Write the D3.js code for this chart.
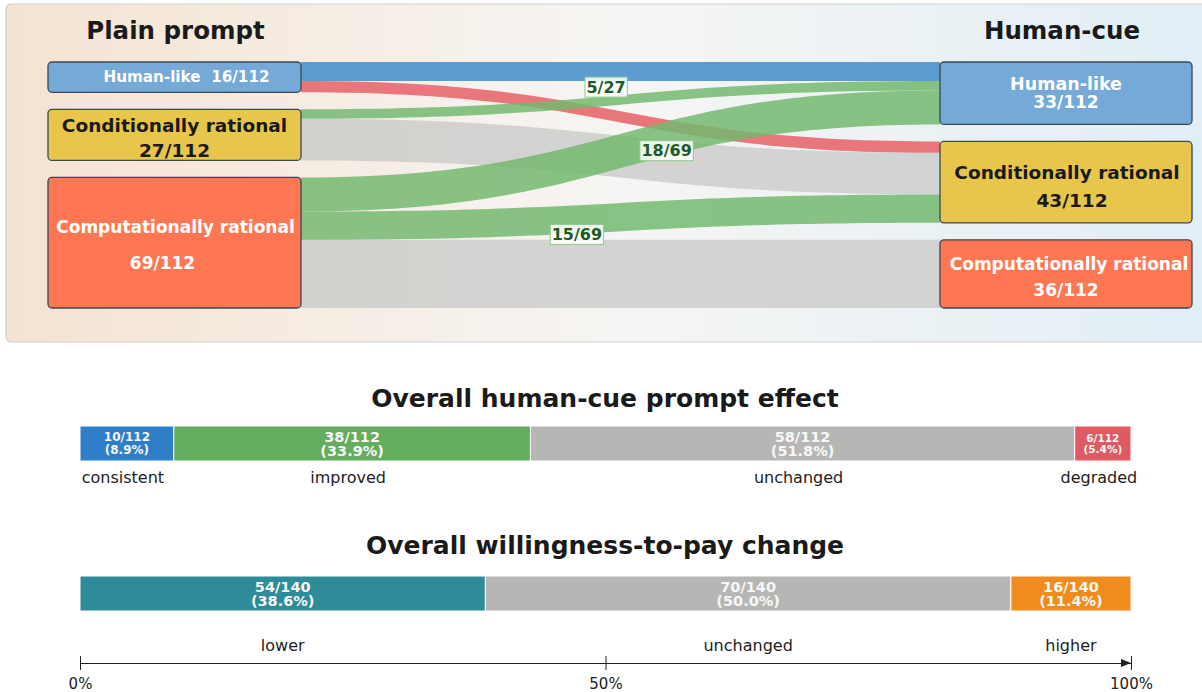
<!DOCTYPE html>
<html>
<head>
<meta charset="utf-8">
<script src="https://cdn.jsdelivr.net/npm/d3@7"></script>
<style>
  body { margin: 0; background: #fff; }
  svg text { font-family: "DejaVu Sans", sans-serif; }
</style>
</head>
<body>
<div class="chart"></div>
<script>
// sankey data: plain prompt -> human-cue
var nodeNames = ["Human-like", "Conditionally rational", "Computationally rational"];
var leftCounts = [16, 27, 69];
var rightCounts = [33, 43, 36];
var flowSource = [0, 0, 1, 1, 2, 2, 2];
var flowTarget = [0, 1, 0, 1, 0, 1, 2];
var flowValue = [10, 6, 5, 22, 18, 15, 36];
var flowKind = ["consistent", "degraded", "improved", "unchanged", "improved", "improved", "unchanged"];
var totalModels = 112;

// summary bars
var effectLabels = ["consistent", "improved", "unchanged", "degraded"];
var effectCounts = [10, 38, 58, 6];
var wtpLabels = ["lower", "unchanged", "higher"];
var wtpCounts = [54, 70, 16];
var axisTicks = [0, 0.5, 1];

var svgWidth = 1202, svgHeight = 692;

var svg = d3.select(".chart").append("svg")
    .attr("width", svgWidth).attr("height", svgHeight);

var defs = svg.append("defs");
var grad = defs.append("linearGradient").attr("id", "panelBg")
    .attr("x1", "0").attr("x2", "1").attr("y1", "0").attr("y2", "0");
grad.append("stop").attr("offset", "0%").attr("stop-color", "#f5e3d2");
grad.append("stop").attr("offset", "50%").attr("stop-color", "#f6f5f3");
grad.append("stop").attr("offset", "100%").attr("stop-color", "#e0eef6");

svg.append("rect")
    .attr("x", 6).attr("y", 4).attr("width", 1220).attr("height", 338)
    .attr("rx", 5)
    .attr("fill", "url(#panelBg)")
    .attr("stroke", "#cfcfcf").attr("stroke-width", 1.2);

// ---------- sankey ----------
var leftX0 = 48, leftX1 = 301, rightX0 = 940, rightX1 = 1192;
var topY = 62, nodeGap = 17;
var yUnit = d3.scaleLinear().domain([0, totalModels]).range([0, 212]);

function stackNodes(counts) {
    var y = topY;
    return counts.map(function(c) {
        var n = {y0: y, y1: y + yUnit(c)};
        y = n.y1 + nodeGap;
        return n;
    });
}
var leftNodes = stackNodes(leftCounts);
var rightNodes = stackNodes(rightCounts);

var nodeFill = ["#75a9d7", "#e8c64b", "#ff7752"];
var nodeText = ["#ffffff", "#1a1a1a", "#ffffff"];
var kindColor = {consistent: "#5b9bd0", degraded: "#e8767b", improved: "#74b870", unchanged: "#c9c9c8"};
var kindOpacity = {consistent: 1, degraded: 1, improved: 0.85, unchanged: 0.78};

// links: ordered by target at source side, by source at target side
var links = flowValue.map(function(v, i) {
    return {s: flowSource[i], t: flowTarget[i], v: v, kind: flowKind[i], i: i};
});
var srcOff = leftNodes.map(function(n) { return n.y0; });
links.slice().sort(function(a, b) { return a.s - b.s || a.t - b.t; }).forEach(function(l) {
    l.ys = srcOff[l.s]; srcOff[l.s] += yUnit(l.v);
});
var tgtOff = rightNodes.map(function(n) { return n.y0; });
links.slice().sort(function(a, b) { return a.t - b.t || a.s - b.s; }).forEach(function(l) {
    l.yt = tgtOff[l.t]; tgtOff[l.t] += yUnit(l.v);
});

var xm = (leftX1 + rightX0) / 2;
function band(l) {
    var h = yUnit(l.v);
    return "M" + leftX1 + "," + l.ys +
        "C" + xm + "," + l.ys + " " + xm + "," + l.yt + " " + rightX0 + "," + l.yt +
        "L" + rightX0 + "," + (l.yt + h) +
        "C" + xm + "," + (l.yt + h) + " " + xm + "," + (l.ys + h) + " " + leftX1 + "," + (l.ys + h) + "Z";
}
function pointAt(l, t) {
    var h = yUnit(l.v) / 2, a = l.ys + h, b = l.yt + h;
    var u = 1 - t;
    return {
        x: u*u*u*leftX1 + 3*u*u*t*xm + 3*u*t*t*xm + t*t*t*rightX0,
        y: u*u*u*a + 3*u*u*t*a + 3*u*t*t*b + t*t*t*b
    };
}

var drawOrder = ["unchanged", "consistent", "degraded", "improved"];
var linkG = svg.append("g");
drawOrder.forEach(function(k) {
    linkG.selectAll(null)
        .data(links.filter(function(l) { return l.kind === k; }))
        .enter().append("path")
        .attr("d", band)
        .attr("fill", kindColor[k])
        .attr("fill-opacity", kindOpacity[k]);
});

// nodes
function drawNodes(nodes, x0, x1) {
    svg.append("g").selectAll("rect").data(nodes).enter().append("rect")
        .attr("x", x0).attr("y", function(d) { return d.y0; })
        .attr("width", x1 - x0).attr("height", function(d) { return d.y1 - d.y0; })
        .attr("rx", 4)
        .attr("fill", function(d, i) { return nodeFill[i]; })
        .attr("stroke", "#3b4856").attr("stroke-width", 1.3);
}
drawNodes(leftNodes, leftX0, leftX1);
drawNodes(rightNodes, rightX0, rightX1);

function label(x, y, txt, size, color) {
    svg.append("text")
        .attr("x", x).attr("y", y)
        .attr("text-anchor", "middle").attr("dominant-baseline", "central")
        .attr("font-size", size).attr("font-weight", "bold")
        .attr("fill", color)
        .style("white-space", "pre")
        .text(txt);
}
var lc = (leftX0 + leftX1) / 2, rc = (rightX0 + rightX1) / 2;
function mid(n) { return (n.y0 + n.y1) / 2; }

// left node labels
label(lc + 12, mid(leftNodes[0]), nodeNames[0] + "  " + leftCounts[0] + "/" + totalModels, 15.2, nodeText[0]);
label(lc, mid(leftNodes[1]) - 9, nodeNames[1], 18.5, nodeText[1]);
label(lc, mid(leftNodes[1]) + 16, leftCounts[1] + "/" + totalModels, 18.5, nodeText[1]);
label(lc + 1, mid(leftNodes[2]) - 16, nodeNames[2], 17, nodeText[2]);
label(lc - 12, mid(leftNodes[2]) + 20, leftCounts[2] + "/" + totalModels, 17, nodeText[2]);
// right node labels
label(rc, mid(rightNodes[0]) - 9.5, nodeNames[0], 17.5, nodeText[0]);
label(rc, mid(rightNodes[0]) + 9, rightCounts[0] + "/" + totalModels, 17, nodeText[0]);
label(rc + 1, mid(rightNodes[1]) - 10, nodeNames[1], 18.5, nodeText[1]);
label(rc + 6, mid(rightNodes[1]) + 18, rightCounts[1] + "/" + totalModels, 18.5, nodeText[1]);
label(rc + 3, mid(rightNodes[2]) - 10, nodeNames[2], 17, nodeText[2]);
label(rc, mid(rightNodes[2]) + 16, rightCounts[2] + "/" + totalModels, 17, nodeText[2]);

// column titles
label(lc + 1, 30, "Plain prompt", 24.5, "#1a1a1a");
label(1062, 30, "Human-cue", 24.5, "#1a1a1a");

// flow labels on improved links
var flowLabelPos = {2: {t: 0.47, dy: -14}, 4: {t: 0.595, dy: 12}, 5: {t: 0.41, dy: 15}};
links.filter(function(l) { return l.kind === "improved"; }).forEach(function(l) {
    var p = flowLabelPos[l.i], pt = pointAt(l, p.t);
    var g = svg.append("g").attr("transform", "translate(" + pt.x + "," + (pt.y + p.dy) + ")");
    var txt = g.append("text")
        .attr("text-anchor", "middle").attr("dominant-baseline", "central")
        .attr("font-size", 16).attr("font-weight", "bold").attr("fill", "#1f5a27")
        .text(l.v + "/" + leftCounts[l.s]);
    var bb = txt.node().getBBox();
    g.insert("rect", "text")
        .attr("x", bb.x - 1.5).attr("y", -10).attr("width", bb.width + 3).attr("height", 20)
        .attr("fill", "#ffffff").attr("fill-opacity", 0.85)
        .attr("stroke", "#8fc88b").attr("stroke-width", 1);
});

// ---------- summary bars ----------
var x = d3.scaleLinear().domain([0, 1]).range([80, 1131]);

function stackedBar(title, titleY, barY, labels, counts, colors, captionY, captionDx) {
    var total = d3.sum(counts);
    var acc = 0;
    var segs = counts.map(function(c, i) {
        var s = {x0: acc / total, x1: (acc + c) / total, c: c, label: labels[i], color: colors[i], total: total};
        acc += c;
        return s;
    });
    svg.append("text")
        .attr("x", 605).attr("y", titleY)
        .attr("text-anchor", "middle").attr("dominant-baseline", "central")
        .attr("font-size", 25).attr("font-weight", "bold").attr("fill", "#1a1a1a")
        .text(title);
    var g = svg.append("g");
    g.selectAll("rect").data(segs).enter().append("rect")
        .attr("x", function(d) { return x(d.x0); })
        .attr("y", barY)
        .attr("width", function(d) { return x(d.x1) - x(d.x0); })
        .attr("height", 35)
        .attr("fill", function(d) { return d.color; })
        .attr("stroke", "#ffffff").attr("stroke-width", 1);
    segs.forEach(function(d) {
        var cx = (x(d.x0) + x(d.x1)) / 2;
        var w = x(d.x1) - x(d.x0);
        var fs = w < 70 ? 10.5 : (w < 120 ? 12 : 14.5);
        var lh = w < 70 ? 11.5 : (w < 120 ? 12.5 : 14);
        g.append("text")
            .attr("x", cx).attr("y", barY + 17.5 - lh / 2)
            .attr("text-anchor", "middle").attr("dominant-baseline", "central")
            .attr("font-size", fs).attr("font-weight", "bold").attr("fill", "#f7f7f7")
            .text(d.c + "/" + d.total);
        g.append("text")
            .attr("x", cx).attr("y", barY + 17.5 + lh / 2)
            .attr("text-anchor", "middle").attr("dominant-baseline", "central")
            .attr("font-size", fs).attr("font-weight", "bold").attr("fill", "#f7f7f7")
            .text("(" + (100 * d.c / d.total).toFixed(1) + "%)");
        g.append("text")
            .attr("x", cx + captionDx).attr("y", captionY)
            .attr("text-anchor", "middle").attr("dominant-baseline", "central")
            .attr("font-size", 16).attr("fill", "#222")
            .text(d.label);
    });
}

stackedBar("Overall human-cue prompt effect", 398, 426, effectLabels, effectCounts,
    ["#2f7fc8", "#62ad5e", "#b6b7b5", "#e05a64"], 477, -4);
stackedBar("Overall willingness-to-pay change", 545, 576, wtpLabels, wtpCounts,
    ["#2e8b98", "#b6b7b5", "#f08c1e"], 645, 0);

// percent axis
var axisG = svg.append("g")
    .attr("transform", "translate(0, 663)")
    .call(d3.axisBottom(x).tickValues(axisTicks).tickFormat(d3.format(".0%"))
        .tickSizeInner(7).tickSizeOuter(0).tickPadding(8));
axisG.select(".domain").attr("stroke", "#222").attr("stroke-width", 1.2);
axisG.selectAll(".tick line").attr("y1", -7).attr("y2", 7).attr("stroke", "#222");
axisG.selectAll(".tick text").attr("font-size", 15).attr("fill", "#222")
    .attr("font-family", "DejaVu Sans, sans-serif");
axisG.append("path")
    .attr("d", "M" + (x(1) - 10) + ",-4L" + x(1) + ",0L" + (x(1) - 10) + ",4Z")
    .attr("fill", "#222");
</script>
</body>
</html>
